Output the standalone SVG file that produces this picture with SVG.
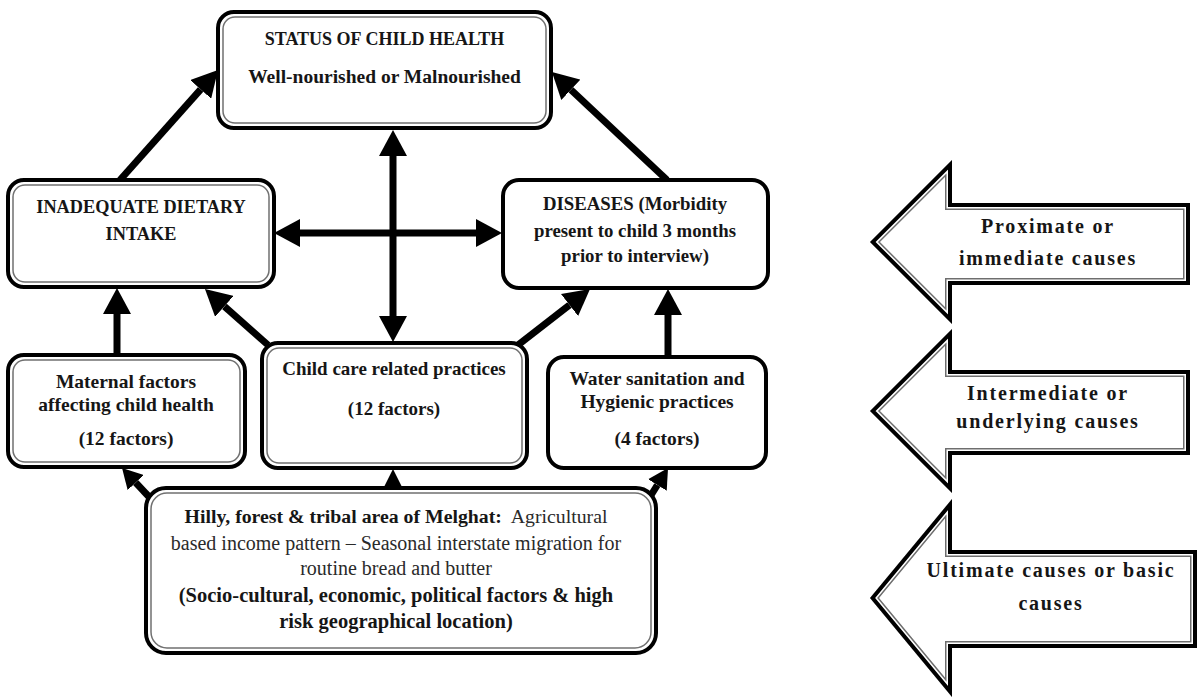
<svg xmlns="http://www.w3.org/2000/svg" xmlns:xlink="http://www.w3.org/1999/xlink" width="1200" height="699" viewBox="0 0 1200 699">
<style>
.ob{fill:#fff;stroke:#000;stroke-width:4}
.ib{fill:none;stroke:#707070;stroke-width:1.5}
.t{font-family:"Liberation Serif","Times New Roman",serif;font-weight:bold;fill:#161616;text-anchor:middle}
.r{font-weight:normal;fill:#2a2a2a}
.c{stroke:#000;stroke-width:7;fill:none}
.at{font-family:"Liberation Serif","Times New Roman",serif;font-weight:bold;fill:#161616;text-anchor:middle;font-size:20px;letter-spacing:1.8px}
</style>
<defs>
<marker id="ah" markerUnits="userSpaceOnUse" markerWidth="26" markerHeight="28" viewBox="0 0 26 28" refX="0" refY="14" orient="auto-start-reverse"><path d="M0,0 L26,14 L0,28 Z" fill="#000"/></marker>
<marker id="as" markerUnits="userSpaceOnUse" markerWidth="20" markerHeight="22" viewBox="0 0 20 22" refX="0" refY="11" orient="auto"><path d="M0,0 L20,11 L0,22 Z" fill="#000"/></marker>
<polygon id="p1" points="870,242 952,160 952,203 1190,203 1190,285 952,285 952,324"/>
<polygon id="p2" points="870,411 952,329 952,370 1190,370 1190,455 952,455 952,493"/>
<polygon id="p3" points="870,598 952,499 952,550 1197,550 1197,648 952,648 952,697"/>
<clipPath id="c1"><use xlink:href="#p1"/></clipPath>
<clipPath id="c2"><use xlink:href="#p2"/></clipPath>
<clipPath id="c3"><use xlink:href="#p3"/></clipPath>
</defs>
<rect width="1200" height="699" fill="#fff"/>

<g id="connectors">
<line class="c" x1="120" y1="180" x2="200.7" y2="89.4" marker-end="url(#ah)"/>
<line class="c" x1="667" y1="180" x2="570.9" y2="89.8" marker-end="url(#ah)"/>
<line class="c" x1="393" y1="156" x2="393" y2="316" marker-start="url(#ah)" marker-end="url(#ah)"/>
<line class="c" x1="300" y1="233" x2="476" y2="233" marker-start="url(#ah)" marker-end="url(#ah)"/>
<line class="c" x1="117" y1="355" x2="117" y2="314" marker-end="url(#ah)"/>
<line class="c" x1="668" y1="357" x2="668" y2="315" marker-end="url(#ah)"/>
<line class="c" x1="268" y1="345" x2="224.4" y2="306.3" marker-end="url(#ah)"/>
<line class="c" x1="518" y1="345" x2="569.5" y2="305" marker-end="url(#ah)"/>
<polygon points="383,489 403,489 393,469" fill="#000"/>
<line class="c" x1="152" y1="500" x2="135.7" y2="482.6" marker-end="url(#as)"/>
<line class="c" x1="648" y1="500" x2="657.4" y2="485" marker-end="url(#as)"/>
</g>

<g id="status">
<rect class="ob" x="218" y="12" width="333" height="116" rx="16"/>
<rect class="ib" x="223" y="17" width="323" height="106" rx="12"/>
<text class="t" x="384.5" y="45" font-size="18">STATUS OF CHILD HEALTH</text>
<text class="t" x="384.5" y="83" font-size="19.5">Well-nourished or Malnourished</text>
</g>

<g id="inadequate">
<rect class="ob" x="8" y="180" width="266" height="107" rx="16"/>
<rect class="ib" x="13" y="185" width="256" height="97" rx="12"/>
<text class="t" x="141" y="213" font-size="18.3">INADEQUATE DIETARY</text>
<text class="t" x="141" y="240" font-size="18.3">INTAKE</text>
</g>

<g id="diseases">
<rect class="ob" x="503" y="180" width="265" height="108" rx="16"/>
<text class="t" x="635" y="210" font-size="18.8">DISEASES (Morbidity</text>
<text class="t" x="635" y="237" font-size="18.8">present to child 3 months</text>
<text class="t" x="635" y="262" font-size="18.8">prior to interview)</text>
</g>

<g id="maternal">
<rect class="ob" x="8" y="355" width="237" height="112" rx="16"/>
<rect class="ib" x="13" y="360" width="227" height="102" rx="12"/>
<text class="t" x="126" y="388" font-size="19.5">Maternal factors</text>
<text class="t" x="126" y="411" font-size="19.5">affecting child health</text>
<text class="t" x="126" y="445" font-size="19.5">(12 factors)</text>
</g>

<g id="childcare">
<rect class="ob" x="262" y="343" width="265" height="125" rx="16"/>
<rect class="ib" x="267" y="348" width="255" height="115" rx="12"/>
<text class="t" x="394" y="375" font-size="19">Child care related practices</text>
<text class="t" x="394" y="415" font-size="19">(12 factors)</text>
</g>

<g id="water">
<rect class="ob" x="548" y="357" width="218" height="111" rx="16"/>
<text class="t" x="657" y="385" font-size="19.5">Water sanitation and</text>
<text class="t" x="657" y="408" font-size="19.5">Hygienic practices</text>
<text class="t" x="657" y="445" font-size="19.5">(4 factors)</text>
</g>

<g id="melghat">
<rect class="ob" x="146" y="488" width="510" height="165" rx="20"/>
<rect class="ib" x="151" y="493" width="500" height="155" rx="16"/>
<text class="t" x="396" y="523" font-size="19.8">Hilly, forest &amp; tribal area of Melghat:<tspan class="r">&#160; Agricultural</tspan></text>
<text class="t r" x="396" y="550" font-size="20">based income pattern – Seasonal interstate migration for</text>
<text class="t r" x="396" y="575" font-size="20">routine bread and butter</text>
<text class="t" x="396" y="602" font-size="20.5">(Socio-cultural, economic, political factors &amp; high</text>
<text class="t" x="396" y="628" font-size="20.5">risk geographical location)</text>
</g>

<g id="proximate">
<use xlink:href="#p1" fill="#fff"/>
<g clip-path="url(#c1)" fill="none">
<use xlink:href="#p1" stroke="#6e6e6e" stroke-width="14"/>
<use xlink:href="#p1" stroke="#fff" stroke-width="11"/>
<use xlink:href="#p1" stroke="#000" stroke-width="8"/>
</g>
<text class="at" x="1048" y="233">Proximate or</text>
<text class="at" x="1048" y="265">immediate causes</text>
</g>

<g id="intermediate">
<use xlink:href="#p2" fill="#fff"/>
<g clip-path="url(#c2)" fill="none">
<use xlink:href="#p2" stroke="#6e6e6e" stroke-width="14"/>
<use xlink:href="#p2" stroke="#fff" stroke-width="11"/>
<use xlink:href="#p2" stroke="#000" stroke-width="8"/>
</g>
<text class="at" x="1048" y="400">Intermediate or</text>
<text class="at" x="1048" y="428">underlying causes</text>
</g>

<g id="ultimate">
<use xlink:href="#p3" fill="#fff"/>
<g clip-path="url(#c3)" fill="none">
<use xlink:href="#p3" stroke="#6e6e6e" stroke-width="14"/>
<use xlink:href="#p3" stroke="#fff" stroke-width="11"/>
<use xlink:href="#p3" stroke="#000" stroke-width="8"/>
</g>
<text class="at" x="1051" y="577">Ultimate causes or basic</text>
<text class="at" x="1051" y="610">causes</text>
</g>
</svg>
